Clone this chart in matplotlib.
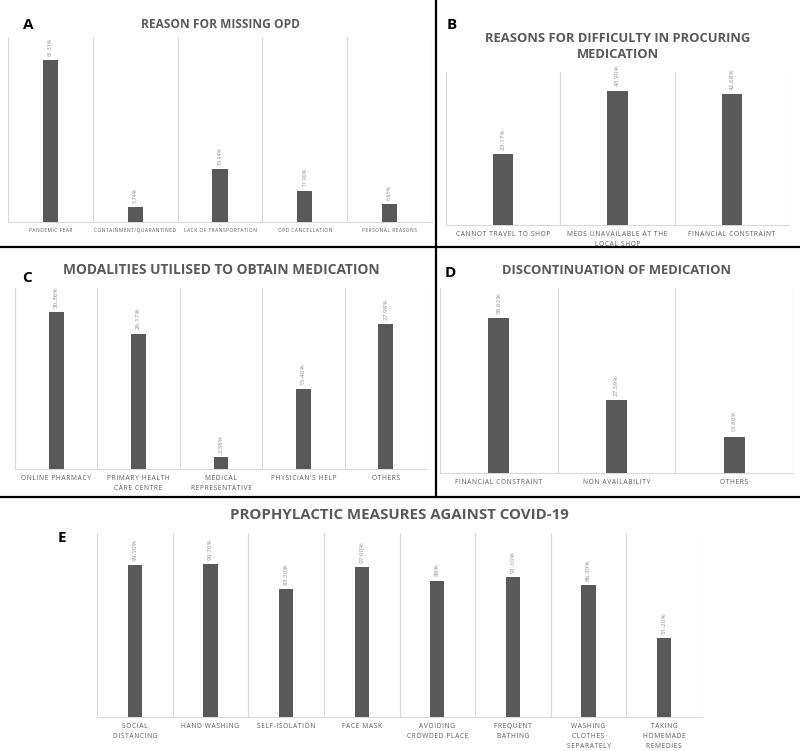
import numpy as np
import matplotlib
matplotlib.use('Agg')
import matplotlib.pyplot as plt

plt.rcParams['font.family'] = ['Open Sans', 'DejaVu Sans']

W, H = 800, 751
BAR = '#595959'
TXT = '#595959'
GRID = '#d9d9d9'

# A
a_cats = ['PANDEMIC FEAR', 'CONTAINMENT/QUARANTINED', 'LACK OF TRANSPORTATION',
          'OPD CANCELLATION', 'PERSONAL REASONS']
a_vals = [61.31, 5.74, 19.94, 11.90, 6.85]
a_labs = ['61.31%', '5.74%', '19.94%', '11.90%', '6.85%']

# B
b_cats = ['CANNOT TRAVEL TO SHOP', 'MEDS UNAVAILABLE AT THE\nLOCAL SHOP', 'FINANCIAL CONSTRAINT']
b_vals = [23.17, 43.90, 42.68]
b_labs = ['23.17%', '43.90%', '42.68%']

# C
c_cats = ['ONLINE PHARMACY', 'PRIMARY HEALTH\nCARE CENTRE', 'MEDICAL\nREPRESENTATIVE',
          "PHYSICIAN'S HELP", 'OTHERS']
c_vals = [30.36, 26.17, 2.38, 15.48, 27.98]
c_labs = ['30.36%', '26.17%', '2.38%', '15.48%', '27.98%']

# D
d_cats = ['FINANCIAL CONSTRAINT', 'NON AVAILABILITY', 'OTHERS']
d_vals = [58.62, 27.59, 13.80]
d_labs = ['58.62%', '27.59%', '13.80%']

# E
e_cats = ['SOCIAL\nDISTANCING', 'HAND WASHING', 'SELF-ISOLATION', 'FACE MASK',
          'AVOIDING\nCROWDED PLACE', 'FREQUENT\nBATHING', 'WASHING\nCLOTHES\nSEPARATELY',
          'TAKING\nHOMEMADE\nREMEDIES']
e_vals = [99.10, 99.70, 83.30, 97.60, 89.0, 91.10, 86.30, 51.20]
e_labs = ['99.10%', '99.70%', '83.30%', '97.60%', '89%', '91.10%', '86.30%', '51.20%']

fig = plt.figure(figsize=(W / 100, H / 100), dpi=100)


def spaced(s):
    # excel-like letter spacing
    return '\n'.join('\u200a'.join(line) for line in s.split('\n'))


def panel(x0, x1, ytop, ybot, cats, vals, labs, ymax, title, title_y, title_fs, letter, lx, ly,
          catfs=4.8, valfs=4.6, width=0.18):
    ax = fig.add_axes([x0 / W, 1 - ybot / H, (x1 - x0) / W, (ybot - ytop) / H])
    n = len(cats)
    x = np.arange(n)
    ax.bar(x, vals, width=width, color=BAR, zorder=3)
    ax.set_xlim(-0.5, n - 0.5)
    ax.set_ylim(0, ymax)
    for b in np.arange(n + 1) - 0.5:
        ax.axvline(b, color=GRID, lw=0.8, zorder=1)
    for s in ['top', 'left', 'right']:
        ax.spines[s].set_visible(False)
    ax.spines['bottom'].set_color(GRID)
    ax.spines['bottom'].set_linewidth(0.8)
    ax.set_yticks([])
    ax.set_xticks(x)
    ax.set_xticklabels([spaced(c) for c in cats], fontsize=catfs, color=TXT, linespacing=1.6)
    ax.tick_params(axis='x', length=0, pad=4)
    for xi, v, l in zip(x, vals, labs):
        ax.annotate(l, (xi, v), xytext=(0, 3), textcoords='offset points',
                    rotation=90, ha='center', va='bottom', fontsize=valfs, color='#8c8c8c')
    cx = (x0 + x1) / 2 / W
    fig.text(cx, 1 - title_y / H, title, ha='center', va='center', fontsize=title_fs,
             fontweight='bold', color=TXT, linespacing=1.3)
    fig.text(lx / W, 1 - ly / H, letter, ha='center', va='center', fontsize=11,
             fontweight='bold', color='black')
    return ax


panel(8, 432, 37, 222, a_cats, a_vals, a_labs, 70, 'REASON FOR MISSING OPD', 24, 8.6,
      'A', 28, 25, catfs=3.5, valfs=3.9)
panel(446, 789, 72, 225, b_cats, b_vals, b_labs, 50,
      'REASONS FOR DIFFICULTY IN PROCURING\nMEDICATION', 46, 9.4, 'B', 452, 25)
panel(15, 427, 288, 469, c_cats, c_vals, c_labs, 35,
      'MODALITIES UTILISED TO OBTAIN MEDICATION', 270, 9.9, 'C', 27, 278)
panel(440, 793, 288, 473, d_cats, d_vals, d_labs, 70,
      'DISCONTINUATION OF MEDICATION', 271, 9.4, 'D', 450, 273)
panel(97, 702, 533, 717, e_cats, e_vals, e_labs, 120,
      'PROPHYLACTIC MEASURES AGAINST COVID-19', 515, 10.8, 'E', 62, 538, width=0.19)


# panel borders
def hline(y, x0, x1):
    fig.add_artist(plt.Line2D([x0 / W, x1 / W], [1 - y / H, 1 - y / H], color='black', lw=1.6))


def vline(x, y0, y1):
    fig.add_artist(plt.Line2D([x / W, x / W], [1 - y0 / H, 1 - y1 / H], color='black', lw=1.6))


hline(247, 0, 800)
hline(497, 0, 800)
vline(436, 0, 497)

fig.savefig('out.png', dpi=100)
